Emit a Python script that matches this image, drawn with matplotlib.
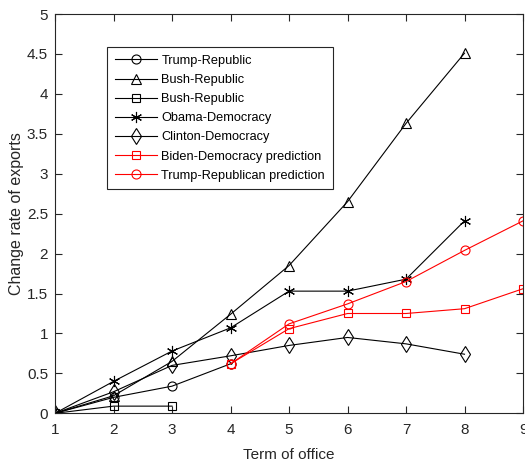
import numpy as np
import matplotlib
matplotlib.use('Agg')
import matplotlib.pyplot as plt
from matplotlib.ticker import FormatStrFormatter, MultipleLocator

plt.rcParams['font.family'] = ['Liberation Sans', 'DejaVu Sans']

# term of office index for each series
terms_trump = [1, 2, 3, 4]
terms_bush_a = [1, 2, 3, 4, 5, 6, 7, 8]
terms_bush_b = [1, 2, 3]
terms_obama = [1, 2, 3, 4, 5, 6, 7, 8]
terms_clinton = [1, 2, 3, 4, 5, 6, 7, 8]
terms_pred = [4, 5, 6, 7, 8, 9]

trump_rep = [0, 0.20, 0.34, 0.62]
bush_rep_a = [0, 0.22, 0.65, 1.24, 1.85, 2.65, 3.63, 4.51]
bush_rep_b = [0, 0.09, 0.09]
obama_dem = [0, 0.40, 0.78, 1.07, 1.53, 1.53, 1.68, 2.41]
clinton_dem = [0, 0.27, 0.60, 0.72, 0.85, 0.95, 0.87, 0.74]
biden_pred = [0.62, 1.06, 1.25, 1.25, 1.31, 1.56]
trump_pred = [0.62, 1.12, 1.37, 1.65, 2.04, 2.41]

AX_COLOR = '#262626'

fig = plt.figure(figsize=(5.25, 4.63), dpi=100)
ax = fig.add_axes([0.1048, 0.1073, 0.8914, 0.8624])

style = dict(linewidth=0.8, markersize=6.5, markerfacecolor='none', markeredgewidth=0.8)
ax.plot(terms_trump, trump_rep, color='black', marker='o', label='Trump-Republic', **style)
ax.plot(terms_bush_a, bush_rep_a, color='black', marker='^', label='Bush-Republic', **style)
ax.plot(terms_bush_b, bush_rep_b, color='black', marker='s', label='Bush-Republic',
        linewidth=0.8, markersize=6, markerfacecolor='none', markeredgewidth=0.8)
ax.plot(terms_obama, obama_dem, color='black', marker=(6, 2, 0), label='Obama-Democracy',
        linewidth=0.8, markersize=8, markeredgewidth=0.8)
ax.plot(terms_clinton, clinton_dem, color='black', marker='d', label='Clinton-Democracy',
        linewidth=0.8, markersize=8, markerfacecolor='none', markeredgewidth=0.8)
ax.plot(terms_pred, biden_pred, color='red', marker='s', label='Biden-Democracy prediction',
        linewidth=0.8, markersize=6, markerfacecolor='none', markeredgewidth=0.8)
ax.plot(terms_pred, trump_pred, color='red', marker='o', label='Trump-Republican prediction', **style)

ax.set_xlim(1, 9)
ax.set_ylim(0, 5)
ax.xaxis.set_major_locator(MultipleLocator(1))
ax.yaxis.set_major_locator(MultipleLocator(0.5))
ax.yaxis.set_major_formatter(FormatStrFormatter('%g'))
ax.tick_params(direction='in', top=True, right=True, length=5, width=0.8,
               labelsize=11, colors=AX_COLOR, pad=5)
ax.tick_params(axis='x', pad=7)
for sp in ax.spines.values():
    sp.set_color(AX_COLOR)
    sp.set_linewidth(0.8)

ax.set_xlabel('Term of office', fontsize=11, color=AX_COLOR, labelpad=8)
ax.set_ylabel('Change rate of exports', fontsize=11.5, color=AX_COLOR, labelpad=2)

leg = ax.legend(loc='upper left', bbox_to_anchor=(0.111, 0.917), borderaxespad=0,
                fontsize=9.2, handlelength=3.3, handletextpad=0.35, labelspacing=0.56,
                borderpad=0.6, fancybox=False, framealpha=1, edgecolor=AX_COLOR)
leg.get_frame().set_linewidth(0.8)

fig.savefig('out.png', dpi=100)
